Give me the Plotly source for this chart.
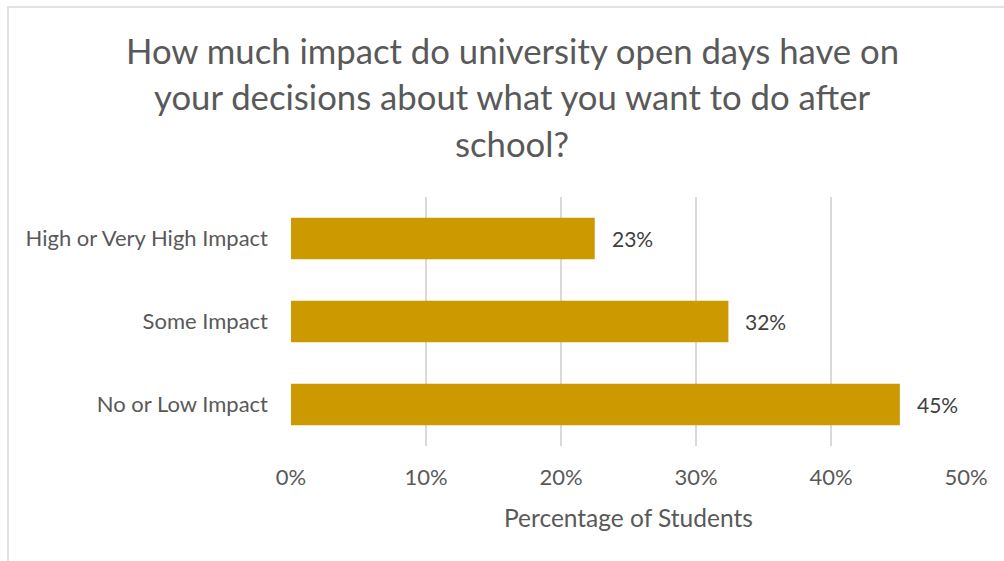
import plotly.graph_objects as go

categories = ["No or Low Impact", "Some Impact", "High or Very High Impact"]
values = [0.451, 0.324, 0.225]
labels = ["45%", "32%", "23%"]
tick_vals = [0, 0.1, 0.2, 0.3, 0.4, 0.5]
tick_text = ["0%", "10%", "20%", "30%", "40%", "50%"]
title_lines = ["How much impact do university open days have on",
               "your decisions about what you want to do after",
               "school?"]

FONT = "Lato"
W, H = 1004, 561
L, R, T, B = 291, 38, 197, 115
PW, PH = W - L - R, H - T - B

def px_to_x(px):
    return (px - L) / PW

def py_to_y(py):
    return (H - B - py) / PH

fig = go.Figure()
fig.add_trace(go.Bar(
    x=values, y=categories, orientation="h",
    marker=dict(color="#CC9900", line=dict(width=0)),
    width=0.5, hoverinfo="skip",
))

for v, c, t in zip(values, categories, labels):
    fig.add_annotation(x=v, y=c, text=t, showarrow=False, xanchor="left",
                       xshift=15, font=dict(family=FONT, size=21, color="#404040"))

title_y = [50, 97, 143]
for line, py in zip(title_lines, title_y):
    fig.add_annotation(xref="paper", yref="paper", x=px_to_x(512), y=py_to_y(py),
                       text=line, showarrow=False, xanchor="center", yanchor="middle",
                       font=dict(family=FONT, size=34.7, color="#595959"))

fig.add_annotation(xref="paper", yref="paper", x=px_to_x(628), y=py_to_y(517),
                   text="Percentage of Students", showarrow=False,
                   xanchor="center", yanchor="middle",
                   font=dict(family=FONT, size=24.5, color="#595959"))

fig.add_shape(type="rect", xref="paper", yref="paper",
              x0=px_to_x(8), x1=px_to_x(1012), y0=py_to_y(7), y1=py_to_y(575),
              line=dict(color="#d9d9d9", width=1.5), fillcolor="rgba(0,0,0,0)", layer="below")

fig.update_layout(
    width=W, height=H,
    margin=dict(l=L, r=R, t=T, b=B),
    paper_bgcolor="white", plot_bgcolor="white",
    showlegend=False,
    xaxis=dict(range=[0, 0.5], tickvals=tick_vals, ticktext=tick_text,
               showgrid=True, gridcolor="#d9d9d9", gridwidth=1.5,
               zeroline=False, showline=False, ticks="", ticklabelstandoff=16,
               tickfont=dict(family=FONT, size=22, color="#595959"), fixedrange=True),
    yaxis=dict(categoryorder="array", categoryarray=categories,
               showgrid=False, zeroline=False, showline=False, ticks="",
               ticklabelstandoff=22,
               tickfont=dict(family=FONT, size=22, color="#595959"), fixedrange=True),
)

fig.write_html("out.html", config={"displayModeBar": False})
